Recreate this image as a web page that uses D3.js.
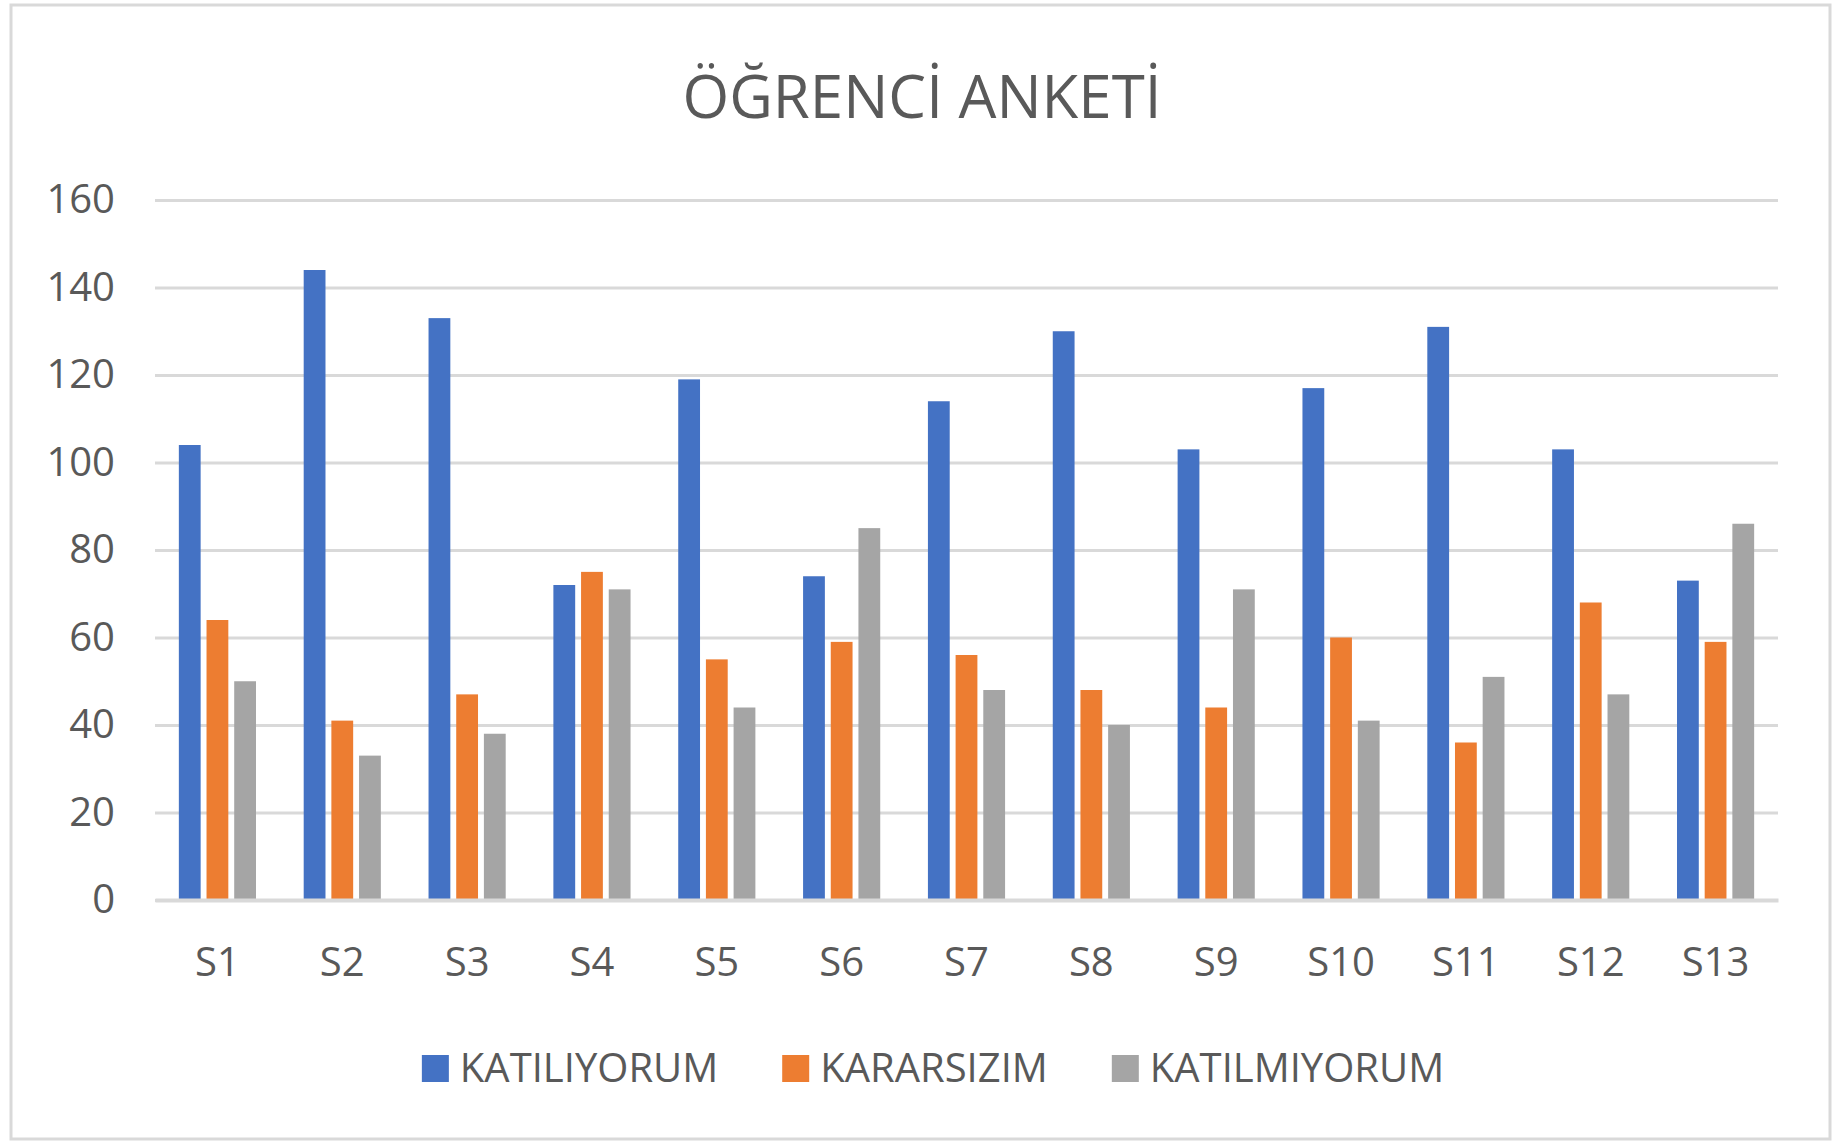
<!DOCTYPE html>
<html>
<head>
<meta charset="utf-8">
<script src="https://cdn.jsdelivr.net/npm/d3@7"></script>
<style>
  body { margin: 0; background: #fff; }
  text { font-family: "Open Sans", "Noto Sans", sans-serif; fill: #595959; }
</style>
</head>
<body>
<div id="chart"></div>
<script>
var categories = ["S1", "S2", "S3", "S4", "S5", "S6", "S7", "S8", "S9", "S10", "S11", "S12", "S13"];
var seriesNames = ["KATILIYORUM", "KARARSIZIM", "KATILMIYORUM"];
var katiliyorum = [104, 144, 133, 72, 119, 74, 114, 130, 103, 117, 131, 103, 73];
var kararsizim = [64, 41, 47, 75, 55, 59, 56, 48, 44, 60, 36, 68, 59];
var katilmiyorum = [50, 33, 38, 71, 44, 85, 48, 40, 71, 41, 51, 47, 86];
var yTicks = [0, 20, 40, 60, 80, 100, 120, 140, 160];
var colors = ["#4472C4", "#ED7D31", "#A5A5A5"];

var W = 1832, H = 1142;
var margin = { top: 200, right: 54, bottom: 242, left: 155 },
    width = W - margin.left - margin.right,
    height = H - margin.top - margin.bottom;

// build rows for the grouped bars
var allSeries = [katiliyorum, kararsizim, katilmiyorum];
var data = categories.map(function (c, i) {
    return { cat: c, values: seriesNames.map(function (s, j) { return { key: s, value: allSeries[j][i] } }) };
});

var svg = d3.select("#chart")
    .append("svg")
    .attr("width", W)
    .attr("height", H);

svg.append("rect")
    .attr("x", 11).attr("y", 5)
    .attr("width", 1819).attr("height", 1134)
    .attr("fill", "#fff")
    .attr("stroke", "#d9d9d9")
    .attr("stroke-width", 3);

// title
svg.append("text")
    .attr("x", 922)
    .attr("y", 118)
    .attr("text-anchor", "middle")
    .style("font-size", "60px")
    .text("ÖĞRENCİ ANKETİ");

var g = svg.append("g")
    .attr("transform", "translate(" + margin.left + "," + margin.top + ")");

var x0 = d3.scaleBand()
    .domain(categories)
    .range([0, width])
    .paddingInner(0.382)
    .paddingOuter(0.191);

var x1 = d3.scaleBand()
    .domain(seriesNames)
    .range([0, x0.bandwidth()])
    .paddingInner(0.2126);

var y = d3.scaleLinear()
    .domain([0, 160])
    .range([height, 0]);

var color = d3.scaleOrdinal()
    .domain(seriesNames)
    .range(colors);

// y axis with gridlines
var yAxis = g.append("g")
    .call(d3.axisLeft(y).tickValues(yTicks).tickSize(-width).tickPadding(40));
yAxis.select(".domain").remove();
yAxis.selectAll(".tick line")
    .attr("stroke", "#d9d9d9")
    .attr("stroke-width", 3);
yAxis.selectAll(".tick text")
    .attr("fill", "#595959")
    .style("font-size", "40px")
    .style("font-family", "'Open Sans', sans-serif");

// bars
g.append("g")
    .selectAll("g")
    .data(data)
    .enter()
    .append("g")
    .attr("transform", function (d) { return "translate(" + x0(d.cat) + ",0)" })
    .selectAll("rect")
    .data(function (d) { return d.values })
    .enter()
    .append("rect")
    .attr("x", function (d) { return x1(d.key) })
    .attr("y", function (d) { return y(d.value) })
    .attr("width", x1.bandwidth())
    .attr("height", function (d) { return height - y(d.value) })
    .attr("fill", function (d) { return color(d.key) });

// x axis
var xAxis = g.append("g")
    .attr("transform", "translate(0," + height + ")")
    .call(d3.axisBottom(x0).tickSize(0).tickPadding(48));
xAxis.select(".domain")
    .attr("stroke", "#d9d9d9")
    .attr("stroke-width", 4);
xAxis.selectAll(".tick text")
    .attr("fill", "#595959")
    .style("font-size", "40px")
    .style("font-family", "'Open Sans', sans-serif");

// legend
var legend = svg.append("g");
var items = legend.selectAll("g")
    .data(seriesNames)
    .enter()
    .append("g");
items.append("rect")
    .attr("width", 27)
    .attr("height", 27)
    .attr("y", -27)
    .attr("fill", function (d) { return color(d) });
items.append("text")
    .attr("x", 38)
    .style("font-size", "40px")
    .text(function (d) { return d });

var xPos = 0;
items.each(function () {
    var t = d3.select(this).select("text").node().getComputedTextLength();
    d3.select(this).attr("transform", "translate(" + xPos + ",0)");
    xPos += 38 + t + 64;
});
var total = xPos - 64;
legend.attr("transform", "translate(" + (933 - total / 2) + ",1082)");
</script>
</body>
</html>
